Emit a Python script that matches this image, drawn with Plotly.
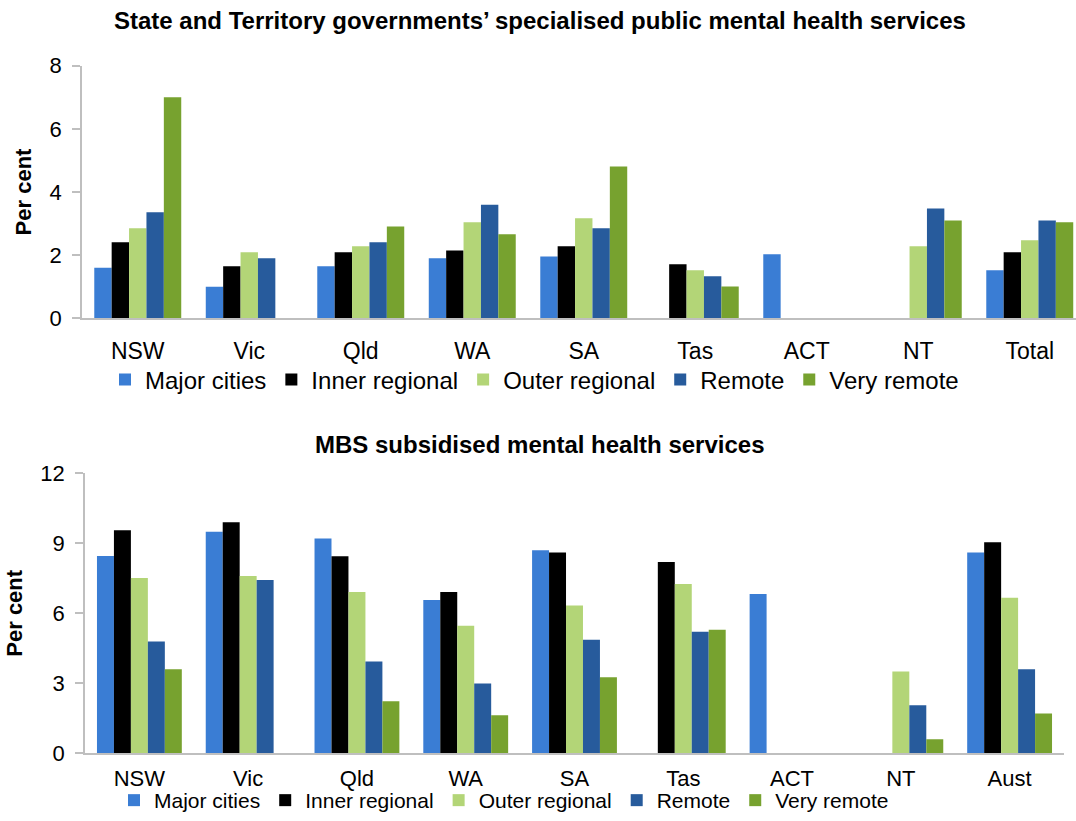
import plotly.graph_objects as go

# ---- data ----
categories_top = ["NSW", "Vic", "Qld", "WA", "SA", "Tas", "ACT", "NT", "Total"]
categories_bottom = ["NSW", "Vic", "Qld", "WA", "SA", "Tas", "ACT", "NT", "Aust"]
series_names = ["Major cities", "Inner regional", "Outer regional", "Remote", "Very remote"]

top_major = [1.6, 1.0, 1.65, 1.9, 1.96, None, 2.03, None, 1.52]
top_inner = [2.41, 1.65, 2.09, 2.15, 2.28, 1.71, None, None, 2.09]
top_outer = [2.85, 2.09, 2.28, 3.04, 3.17, 1.52, None, 2.28, 2.47]
top_remote = [3.36, 1.9, 2.41, 3.6, 2.85, 1.33, None, 3.48, 3.1]
top_very_remote = [7.0, None, 2.91, 2.66, 4.81, 1.01, None, 3.1, 3.04]

bot_major = [8.46, 9.49, 9.21, 6.57, 8.7, None, 6.83, None, 8.61]
bot_inner = [9.56, 9.9, 8.44, 6.91, 8.61, 8.2, None, None, 9.04]
bot_outer = [7.51, 7.6, 6.91, 5.47, 6.33, 7.26, None, 3.51, 6.67]
bot_remote = [4.79, 7.43, 3.93, 2.99, 4.87, 5.21, None, 2.06, 3.6]
bot_very_remote = [3.6, None, 2.23, 1.63, 3.26, 5.3, None, 0.6, 1.71]

top_ticks = [0, 2, 4, 6, 8]
bot_ticks = [0, 3, 6, 9, 12]

colors = ["#3A7DD4", "#000000", "#B3D577", "#275B9C", "#77A22F"]

W, H = 1076, 821
FONT = "Liberation Sans, Arial, sans-serif"

fig = go.Figure()

top_series = [top_major, top_inner, top_outer, top_remote, top_very_remote]
bot_series = [bot_major, bot_inner, bot_outer, bot_remote, bot_very_remote]

for name, vals, col in zip(series_names, top_series, colors):
    fig.add_trace(go.Bar(x=categories_top, y=vals, name=name, marker_color=col,
                         marker_line_width=0, xaxis="x", yaxis="y", legend="legend"))
for name, vals, col in zip(series_names, bot_series, colors):
    fig.add_trace(go.Bar(x=categories_bottom, y=vals, name=name, marker_color=col,
                         marker_line_width=0, xaxis="x2", yaxis="y2", legend="legend2"))

axis_grey = "#BFBFBF"

def ydict(domain, rng, ticks, anchor):
    return dict(domain=domain, range=rng, tickvals=ticks, anchor=anchor, automargin=False,
                showgrid=False, zeroline=False, showline=True, linecolor=axis_grey,
                linewidth=1.5, ticks="outside", ticklen=8, tickcolor=axis_grey,
                tickwidth=1.5, ticklabelstandoff=6,
                tickfont=dict(family=FONT, size=22, color="#000000"),
                title=dict(text="<b>Per cent</b>", font=dict(family=FONT, size=22, color="#000000"),
                           standoff=12))

def xdict(domain, rng, anchor, standoff, size):
    return dict(domain=domain, range=rng, anchor=anchor, type="category", automargin=False,
                showgrid=False, zeroline=False, showline=True, linecolor=axis_grey,
                linewidth=2, ticks="", ticklabelstandoff=standoff,
                tickfont=dict(family=FONT, size=size, color="#000000"))

cat_w_top = 111.5
fig.update_layout(
    template=None,
    width=W, height=H,
    margin=dict(l=0, r=0, t=0, b=0, pad=0),
    paper_bgcolor="white", plot_bgcolor="white",
    barmode="group", bargap=0.22, bargroupgap=0,
    font=dict(family=FONT, color="#000000"),
    xaxis=xdict([82 / W, 1.0], [-0.5, -0.5 + (W - 82) / cat_w_top], "y", 11, 23),
    yaxis=ydict([1 - 318.3 / H, 1 - 65.7 / H], [0, 8], top_ticks, "x"),
    xaxis2=xdict([85 / W, 1064 / W], [-0.5, 8.5], "y2", 4, 22),
    yaxis2=ydict([1 - 753.3 / H, 1 - 473.3 / H], [0, 12], bot_ticks, "x2"),
    legend=dict(orientation="h", x=105 / W, xanchor="left", y=1 - 380 / H, yanchor="middle",
                font=dict(family=FONT, size=24, color="#000000"), bgcolor="rgba(0,0,0,0)",
                traceorder="normal", itemwidth=30),
    legend2=dict(orientation="h", x=114 / W, xanchor="left", y=0, yanchor="bottom",
                 font=dict(family=FONT, size=21, color="#000000"), bgcolor="rgba(0,0,0,0)",
                 traceorder="normal", itemwidth=30),
    annotations=[
        dict(text="<b>State and Territory governments’ specialised public mental health services</b>",
             x=540 / W, y=1 - 20 / H, xref="paper", yref="paper", showarrow=False,
             xanchor="center", yanchor="middle", font=dict(family=FONT, size=24, color="#000000")),
        dict(text="<b>MBS subsidised mental health services</b>",
             x=540 / W, y=1 - 444 / H, xref="paper", yref="paper", showarrow=False,
             xanchor="center", yanchor="middle", font=dict(family=FONT, size=24, color="#000000")),
    ],
)

fig.write_html("out.html", config={"displayModeBar": False},
               post_script="document.body.style.margin='0';document.body.style.overflow='hidden';")
